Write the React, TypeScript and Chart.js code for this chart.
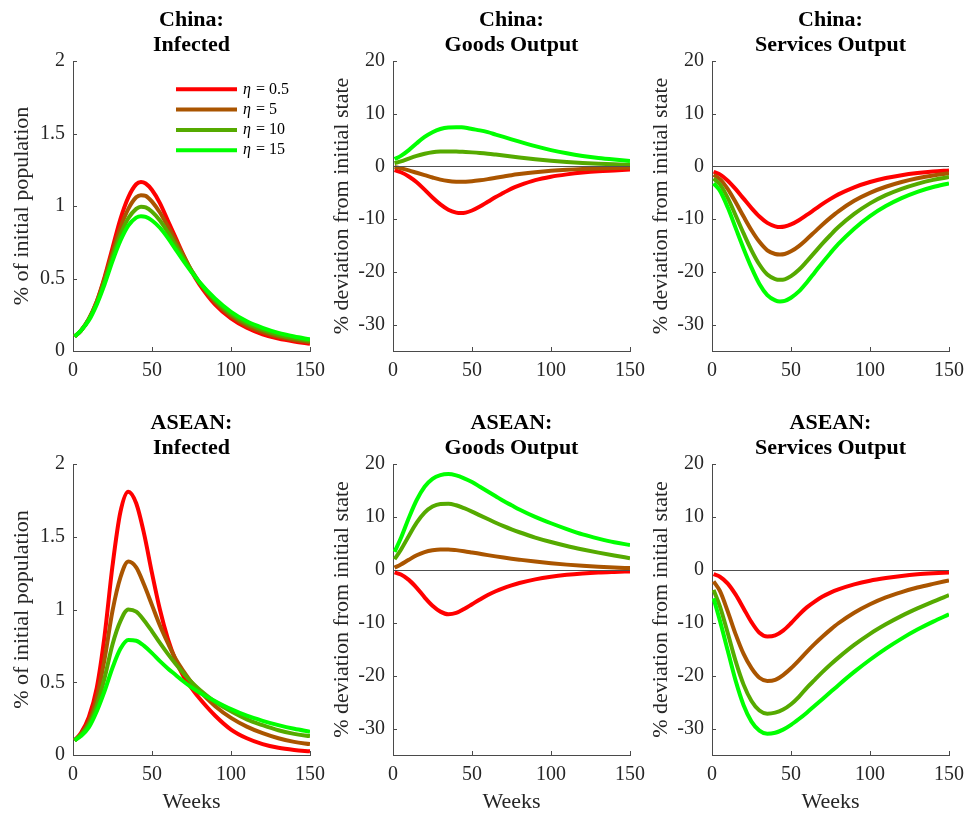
import React, { useEffect, useRef } from "react";
import { Chart, registerables } from "chart.js";

Chart.register(...registerables);

// ---------------- data ----------------
const CHINA_WEEKS = [1, 5, 10, 15, 20, 25, 30, 35, 40, 43, 46, 50, 55, 60, 65, 70, 75, 80, 90, 100, 110, 120, 130, 140, 150];
const ASEAN_WEEKS = [1, 5, 10, 15, 20, 25, 30, 35, 40, 45, 50, 55, 60, 65, 70, 75, 80, 90, 100, 110, 120, 130, 140, 150];

const ETA_LABELS = ["0.5", "5", "10", "15"];
const SERIES_COLORS = ["#FF0000", "#AA5500", "#55AA00", "#00FF00"];

const WEEK_TICKS = [0, 50, 100, 150];
const INFECTED_TICKS = [0, 0.5, 1, 1.5, 2];
const OUTPUT_TICKS = [-30, -20, -10, 0, 10, 20];

// China: Infected (% of initial population)
const chinaInfectedEta05 = [0.10, 0.14, 0.22, 0.34, 0.51, 0.71, 0.91, 1.06, 1.15, 1.165, 1.155, 1.11, 1.02, 0.90, 0.78, 0.66, 0.55, 0.46, 0.32, 0.225, 0.16, 0.115, 0.085, 0.065, 0.05];
const chinaInfectedEta5 = [0.10, 0.14, 0.22, 0.34, 0.50, 0.68, 0.85, 0.98, 1.06, 1.075, 1.07, 1.03, 0.955, 0.86, 0.76, 0.655, 0.555, 0.47, 0.335, 0.24, 0.175, 0.13, 0.097, 0.075, 0.06];
const chinaInfectedEta10 = [0.10, 0.14, 0.22, 0.33, 0.48, 0.65, 0.80, 0.915, 0.98, 0.995, 0.99, 0.96, 0.90, 0.82, 0.73, 0.64, 0.555, 0.475, 0.35, 0.255, 0.19, 0.145, 0.11, 0.087, 0.07];
const chinaInfectedEta15 = [0.10, 0.14, 0.21, 0.32, 0.46, 0.62, 0.76, 0.865, 0.92, 0.93, 0.925, 0.90, 0.85, 0.78, 0.70, 0.62, 0.545, 0.475, 0.36, 0.27, 0.205, 0.16, 0.125, 0.10, 0.08];

// China: Goods Output (% deviation)
const chinaGoodsEta05 = [-0.7, -1.1, -1.9, -3.0, -4.4, -5.9, -7.2, -8.2, -8.75, -8.85, -8.75, -8.35, -7.6, -6.7, -5.8, -5.0, -4.2, -3.6, -2.6, -1.95, -1.5, -1.15, -0.9, -0.75, -0.6];
const chinaGoodsEta5 = [-0.1, -0.35, -0.75, -1.2, -1.65, -2.1, -2.5, -2.75, -2.88, -2.9, -2.88, -2.8, -2.62, -2.4, -2.15, -1.9, -1.65, -1.45, -1.1, -0.82, -0.62, -0.48, -0.38, -0.3, -0.25];
const chinaGoodsEta10 = [0.6, 0.95, 1.5, 2.0, 2.4, 2.68, 2.82, 2.85, 2.82, 2.78, 2.74, 2.67, 2.56, 2.42, 2.25, 2.07, 1.88, 1.7, 1.38, 1.1, 0.86, 0.67, 0.52, 0.4, 0.32];
const chinaGoodsEta15 = [1.4, 2.0, 3.1, 4.4, 5.6, 6.5, 7.1, 7.4, 7.45, 7.42, 7.35, 7.1, 6.85, 6.5, 6.05, 5.6, 5.15, 4.7, 3.85, 3.1, 2.5, 2.0, 1.6, 1.3, 1.05];

// China: Services Output (% deviation)
const chinaServicesEta05 = [-1.0, -1.5, -2.7, -4.3, -6.1, -7.9, -9.5, -10.7, -11.35, -11.5, -11.4, -11.0, -10.2, -9.2, -8.15, -7.1, -6.15, -5.3, -3.95, -2.95, -2.2, -1.65, -1.25, -0.95, -0.75];
const chinaServicesEta5 = [-1.6, -2.4, -4.3, -6.8, -9.5, -12.1, -14.3, -15.9, -16.6, -16.7, -16.6, -16.1, -15.1, -13.8, -12.4, -11.0, -9.7, -8.5, -6.5, -5.0, -3.85, -2.95, -2.25, -1.7, -1.3];
const chinaServicesEta10 = [-2.3, -3.4, -6.0, -9.3, -12.7, -15.9, -18.6, -20.5, -21.35, -21.5, -21.4, -20.8, -19.6, -18.0, -16.3, -14.6, -13.0, -11.5, -9.0, -7.0, -5.45, -4.25, -3.3, -2.55, -2.0];
const chinaServicesEta15 = [-3.2, -4.6, -7.8, -11.7, -15.6, -19.2, -22.3, -24.4, -25.4, -25.6, -25.5, -24.9, -23.7, -22.0, -20.1, -18.2, -16.4, -14.7, -11.8, -9.4, -7.5, -6.0, -4.8, -3.9, -3.2];

// ASEAN: Infected
const aseanInfectedEta05 = [0.10, 0.15, 0.26, 0.46, 0.82, 1.30, 1.67, 1.81, 1.73, 1.52, 1.25, 1.00, 0.80, 0.65, 0.54, 0.46, 0.39, 0.27, 0.175, 0.115, 0.075, 0.05, 0.035, 0.025];
const aseanInfectedEta5 = [0.10, 0.14, 0.23, 0.39, 0.66, 0.99, 1.22, 1.33, 1.29, 1.17, 1.03, 0.89, 0.77, 0.66, 0.575, 0.50, 0.44, 0.335, 0.255, 0.195, 0.15, 0.115, 0.09, 0.075];
const aseanInfectedEta10 = [0.10, 0.14, 0.21, 0.34, 0.53, 0.76, 0.92, 1.00, 0.985, 0.925, 0.85, 0.77, 0.695, 0.625, 0.56, 0.50, 0.45, 0.365, 0.30, 0.245, 0.205, 0.17, 0.145, 0.13];
const aseanInfectedEta15 = [0.10, 0.13, 0.19, 0.30, 0.44, 0.60, 0.73, 0.79, 0.785, 0.75, 0.70, 0.645, 0.595, 0.55, 0.505, 0.465, 0.43, 0.37, 0.315, 0.27, 0.235, 0.205, 0.18, 0.16];

// ASEAN: Goods Output
const aseanGoodsEta05 = [-0.5, -0.9, -1.9, -3.4, -5.2, -6.8, -7.9, -8.4, -8.15, -7.4, -6.5, -5.6, -4.75, -4.05, -3.45, -2.95, -2.5, -1.8, -1.3, -0.95, -0.7, -0.52, -0.4, -0.3];
const aseanGoodsEta5 = [0.4, 1.0, 1.9, 2.75, 3.35, 3.7, 3.85, 3.85, 3.72, 3.52, 3.28, 3.03, 2.78, 2.54, 2.32, 2.11, 1.92, 1.56, 1.25, 0.98, 0.76, 0.58, 0.44, 0.33];
const aseanGoodsEta10 = [2.0, 3.8, 6.4, 8.9, 10.8, 11.95, 12.45, 12.5, 12.2, 11.65, 11.0, 10.3, 9.6, 8.9, 8.25, 7.65, 7.1, 6.1, 5.25, 4.5, 3.85, 3.25, 2.7, 2.2];
const aseanGoodsEta15 = [3.4, 6.0, 9.8, 13.2, 15.7, 17.2, 17.9, 18.1, 17.85, 17.3, 16.6, 15.7, 14.8, 13.9, 13.0, 12.2, 11.4, 10.0, 8.8, 7.7, 6.7, 5.9, 5.2, 4.7];

// ASEAN: Services Output
const aseanServicesEta05 = [-0.8, -1.3, -2.6, -4.7, -7.3, -9.9, -11.9, -12.6, -12.4, -11.5, -10.1, -8.5, -7.1, -6.0, -5.05, -4.3, -3.7, -2.75, -2.05, -1.55, -1.15, -0.85, -0.65, -0.5];
const aseanServicesEta5 = [-2.2, -4.0, -7.9, -12.2, -15.9, -18.6, -20.4, -21.0, -20.8, -19.9, -18.6, -17.1, -15.5, -14.0, -12.6, -11.3, -10.1, -8.1, -6.5, -5.2, -4.2, -3.35, -2.65, -2.0];
const aseanServicesEta10 = [-3.8, -6.9, -12.0, -17.3, -21.7, -24.8, -26.6, -27.2, -27.0, -26.4, -25.4, -24.0, -22.3, -20.8, -19.3, -17.9, -16.6, -14.2, -12.1, -10.3, -8.7, -7.3, -6.0, -4.8];
const aseanServicesEta15 = [-5.4, -9.6, -15.3, -21.0, -25.6, -28.7, -30.4, -31.0, -30.8, -30.2, -29.3, -28.2, -27.0, -25.7, -24.4, -23.1, -21.8, -19.3, -17.0, -14.9, -13.0, -11.3, -9.8, -8.4];

// ---------------- styling ----------------
const SERIF = '"Liberation Serif", "Times New Roman", serif';
const AXIS_COLOR = "#4a4a4a";
const TICK_COLOR = "#262626";

type PanelProps = {
  title: string[];
  yLabel: string;
  xLabel?: string;
  weeks: number[];
  series: number[][];
  yMin: number;
  yMax: number;
  yTicks: number[];
  zeroLine?: boolean;
  legend?: boolean;
  left: number;
  top: number;
  width: number;
  height: number;
  xScaleHeight: number;
};

function Panel(p: PanelProps) {
  const ref = useRef<HTMLCanvasElement>(null);

  useEffect(() => {
    const canvas = ref.current;
    if (!canvas) return;

    const decor = {
      id: "decor",
      afterDatasetsDraw(chart: any) {
        const { ctx, chartArea: a, scales } = chart;
        if (p.zeroLine) {
          const py = Math.round(scales.y.getPixelForValue(0)) + 0.5;
          ctx.save();
          ctx.strokeStyle = "#505050";
          ctx.lineWidth = 1.2;
          ctx.beginPath();
          ctx.moveTo(a.left, py);
          ctx.lineTo(a.right, py);
          ctx.stroke();
          ctx.restore();
        }
      },
      afterDraw(chart: any) {
        const { ctx, chartArea: a, scales } = chart;
        ctx.save();
        ctx.strokeStyle = AXIS_COLOR;
        ctx.lineWidth = 1;
        ctx.beginPath();
        scales.x.ticks.forEach((t: any) => {
          const px = Math.round(scales.x.getPixelForValue(t.value)) + 0.5;
          ctx.moveTo(px, a.bottom);
          ctx.lineTo(px, a.bottom - 4);
        });
        scales.y.ticks.forEach((t: any) => {
          const py = Math.round(scales.y.getPixelForValue(t.value)) + 0.5;
          ctx.moveTo(a.left, py);
          ctx.lineTo(a.left + 4, py);
        });
        ctx.stroke();

        if (p.legend) {
          chart.data.datasets.forEach((d: any, i: number) => {
            const y = a.top + 28.3 + i * 20.3;
            ctx.strokeStyle = d.borderColor;
            ctx.lineWidth = 4;
            ctx.beginPath();
            ctx.moveTo(a.left + 103, y);
            ctx.lineTo(a.left + 164, y);
            ctx.stroke();
            ctx.fillStyle = "#000";
            ctx.textBaseline = "middle";
            ctx.textAlign = "left";
            ctx.font = `italic 16px ${SERIF}`;
            const tx = a.left + 170;
            ctx.fillText("η", tx, y);
            const w = ctx.measureText("η").width;
            ctx.font = `16px ${SERIF}`;
            ctx.fillText(" = " + ETA_LABELS[i], tx + w + 1, y);
          });
        }
        ctx.restore();
      },
    };

    const datasets = p.series.map((vals, i) => ({
      label: "η = " + ETA_LABELS[i],
      data: p.weeks.map((w, j) => ({ x: w, y: vals[j] })),
      borderColor: SERIES_COLORS[i],
      backgroundColor: SERIES_COLORS[i],
      borderWidth: 4,
      pointRadius: 0,
      fill: false,
      cubicInterpolationMode: "monotone" as const,
      order: 3 - i,
    }));

    const chart = new Chart(canvas, {
      type: "line",
      data: { datasets },
      plugins: [decor],
      options: {
        responsive: false,
        animation: false,
        devicePixelRatio: 1,
        layout: { padding: { left: 0, right: 18, top: 0, bottom: 0 } },
        plugins: {
          legend: { display: false },
          tooltip: { enabled: false },
          title: {
            display: true,
            text: p.title,
            fullSize: false,
            color: "#000",
            font: { family: SERIF, size: 22, weight: "bold", lineHeight: 1.14 },
            padding: { top: 7.5, bottom: 3.34 },
          },
        },
        scales: {
          x: {
            type: "linear",
            min: 0,
            max: 150,
            afterBuildTicks: (s: any) => {
              s.ticks = WEEK_TICKS.map((v) => ({ value: v }));
            },
            afterFit: (s: any) => {
              s.height = p.xScaleHeight;
            },
            grid: { display: false, drawTicks: false },
            border: { display: true, color: AXIS_COLOR, width: 1 },
            ticks: {
              font: { family: SERIF, size: 20 },
              color: TICK_COLOR,
              padding: 8,
              maxRotation: 0,
              autoSkip: false,
              callback: (v: any) => String(v),
            },
            title: {
              display: !!p.xLabel,
              text: p.xLabel || "",
              color: TICK_COLOR,
              font: { family: SERIF, size: 22, lineHeight: 1.2 },
              padding: { top: 0, bottom: 0 },
            },
          },
          y: {
            type: "linear",
            min: p.yMin,
            max: p.yMax,
            afterBuildTicks: (s: any) => {
              s.ticks = p.yTicks.map((v) => ({ value: v }));
            },
            afterFit: (s: any) => {
              s.width = 73;
            },
            grid: { display: false, drawTicks: false },
            border: { display: true, color: AXIS_COLOR, width: 1 },
            ticks: {
              font: { family: SERIF, size: 20 },
              color: TICK_COLOR,
              padding: 8,
              autoSkip: false,
              callback: (v: any) => String(v),
            },
            title: {
              display: true,
              text: p.yLabel,
              color: TICK_COLOR,
              font: { family: SERIF, size: 22, lineHeight: 1.2 },
              padding: { top: 9.5, bottom: 0 },
            },
          },
        },
      },
    } as any);

    return () => chart.destroy();
  }, []);

  return (
    <canvas
      ref={ref}
      width={p.width}
      height={p.height}
      style={{ position: "absolute", left: p.left, top: p.top, width: p.width, height: p.height }}
    />
  );
}

const COL_LEFTS = [0, 320, 639];
const PANEL_W = 333;

export default function App() {
  const infectedLabel = "% of initial population";
  const devLabel = "% deviation from initial state";
  return (
    <div style={{ position: "absolute", left: 0, top: 0, width: 973, height: 818, background: "#fff", overflow: "hidden" }}>
      <Panel title={["China:", "Infected"]} yLabel={infectedLabel} weeks={CHINA_WEEKS}
        series={[chinaInfectedEta05, chinaInfectedEta5, chinaInfectedEta10, chinaInfectedEta15]}
        yMin={0} yMax={2} yTicks={INFECTED_TICKS} legend
        left={COL_LEFTS[0]} top={0} width={PANEL_W} height={391} xScaleHeight={40} />
      <Panel title={["China:", "Goods Output"]} yLabel={devLabel} weeks={CHINA_WEEKS}
        series={[chinaGoodsEta05, chinaGoodsEta5, chinaGoodsEta10, chinaGoodsEta15]}
        yMin={-35} yMax={20} yTicks={OUTPUT_TICKS} zeroLine
        left={COL_LEFTS[1]} top={0} width={PANEL_W} height={391} xScaleHeight={40} />
      <Panel title={["China:", "Services Output"]} yLabel={devLabel} weeks={CHINA_WEEKS}
        series={[chinaServicesEta05, chinaServicesEta5, chinaServicesEta10, chinaServicesEta15]}
        yMin={-35} yMax={20} yTicks={OUTPUT_TICKS} zeroLine
        left={COL_LEFTS[2]} top={0} width={PANEL_W} height={391} xScaleHeight={40} />
      <Panel title={["ASEAN:", "Infected"]} yLabel={infectedLabel} xLabel="Weeks" weeks={ASEAN_WEEKS}
        series={[aseanInfectedEta05, aseanInfectedEta5, aseanInfectedEta10, aseanInfectedEta15]}
        yMin={0} yMax={2} yTicks={INFECTED_TICKS}
        left={COL_LEFTS[0]} top={403} width={PANEL_W} height={412} xScaleHeight={60} />
      <Panel title={["ASEAN:", "Goods Output"]} yLabel={devLabel} xLabel="Weeks" weeks={ASEAN_WEEKS}
        series={[aseanGoodsEta05, aseanGoodsEta5, aseanGoodsEta10, aseanGoodsEta15]}
        yMin={-35} yMax={20} yTicks={OUTPUT_TICKS} zeroLine
        left={COL_LEFTS[1]} top={403} width={PANEL_W} height={412} xScaleHeight={60} />
      <Panel title={["ASEAN:", "Services Output"]} yLabel={devLabel} xLabel="Weeks" weeks={ASEAN_WEEKS}
        series={[aseanServicesEta05, aseanServicesEta5, aseanServicesEta10, aseanServicesEta15]}
        yMin={-35} yMax={20} yTicks={OUTPUT_TICKS} zeroLine
        left={COL_LEFTS[2]} top={403} width={PANEL_W} height={412} xScaleHeight={60} />
    </div>
  );
}
